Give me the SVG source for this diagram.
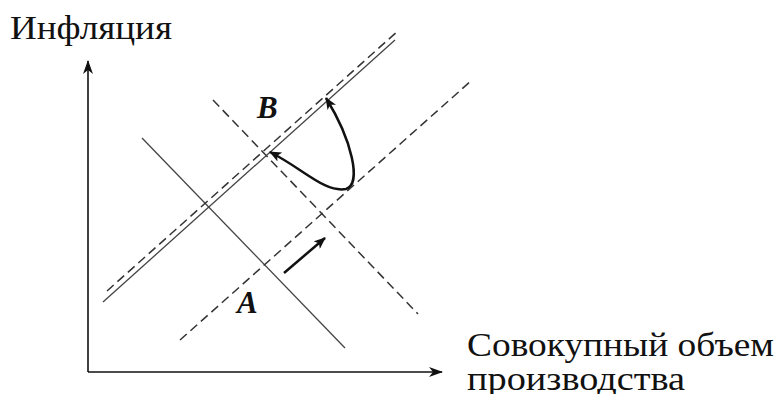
<svg xmlns="http://www.w3.org/2000/svg" width="781" height="394" viewBox="0 0 781 394">
<style>
.ax{stroke:#111;stroke-width:1.6;fill:none}
.sol{stroke:#444;stroke-width:1.3;fill:none}
.dash{stroke:#333;stroke-width:1.5;fill:none;stroke-dasharray:9 5}
.lbl{font-family:"Liberation Serif","Times New Roman",serif;fill:#111}
.pt{font-family:"Liberation Serif","Times New Roman",serif;font-weight:bold;font-style:italic;fill:#111}
</style>
<defs>
<marker id="ah" viewBox="0 0 14 10" refX="13" refY="5" markerWidth="14" markerHeight="10" markerUnits="userSpaceOnUse" orient="auto">
<path d="M0,0 L14,5 L0,10 L4,5 Z" fill="#111"/>
</marker>
<marker id="sh" viewBox="0 0 12 10" refX="11" refY="5" markerWidth="12" markerHeight="10" markerUnits="userSpaceOnUse" orient="auto">
<path d="M0,0 L12,5 L0,10 L3,5 Z" fill="#111"/>
</marker>
<marker id="shs" viewBox="0 0 12 10" refX="1" refY="5" markerWidth="12" markerHeight="10" markerUnits="userSpaceOnUse" orient="auto">
<path d="M12,0 L0,5 L12,10 L9,5 Z" fill="#111"/>
</marker>
</defs>
<g id="axes">
<line class="ax" x1="88" y1="372" x2="88" y2="61" marker-end="url(#ah)"/>
<line class="ax" x1="88" y1="372" x2="442" y2="372" marker-end="url(#ah)"/>
</g>
<g id="connectors">
<line id="ad" class="sol" x1="142" y1="138" x2="345" y2="348"/>
<line id="ad2" class="dash" x1="213" y1="100" x2="418" y2="314"/>
<line id="as" class="sol" x1="103" y1="302" x2="395" y2="40"/>
<line id="as2" class="dash" x1="107" y1="291" x2="399" y2="30"/>
<line id="as3" class="dash" x1="180" y1="340" x2="472" y2="80"/>
<line id="shift" stroke="#111" stroke-width="2.5" x1="284" y1="273" x2="325" y2="238" marker-end="url(#sh)"/>
<path id="curve" d="M270,152 C305,170 325,193 346,189 C362,184 352,140 326,98" stroke="#111" stroke-width="2.5" fill="none" marker-start="url(#shs)" marker-end="url(#sh)"/>
</g>
<g id="label-y"><text class="lbl" x="10" y="39" font-size="34" textLength="162" lengthAdjust="spacingAndGlyphs">Инфляция</text></g>
<g id="label-x"><text class="lbl" x="467" y="356" font-size="34" textLength="307" lengthAdjust="spacingAndGlyphs">Совокупный объем</text>
<text class="lbl" x="467" y="390" font-size="34" textLength="218" lengthAdjust="spacingAndGlyphs">производства</text></g>
<g id="point-B"><text class="pt" x="257" y="118" font-size="31">B</text></g>
<g id="point-A"><text class="pt" x="237" y="313" font-size="31">A</text></g>
</svg>
